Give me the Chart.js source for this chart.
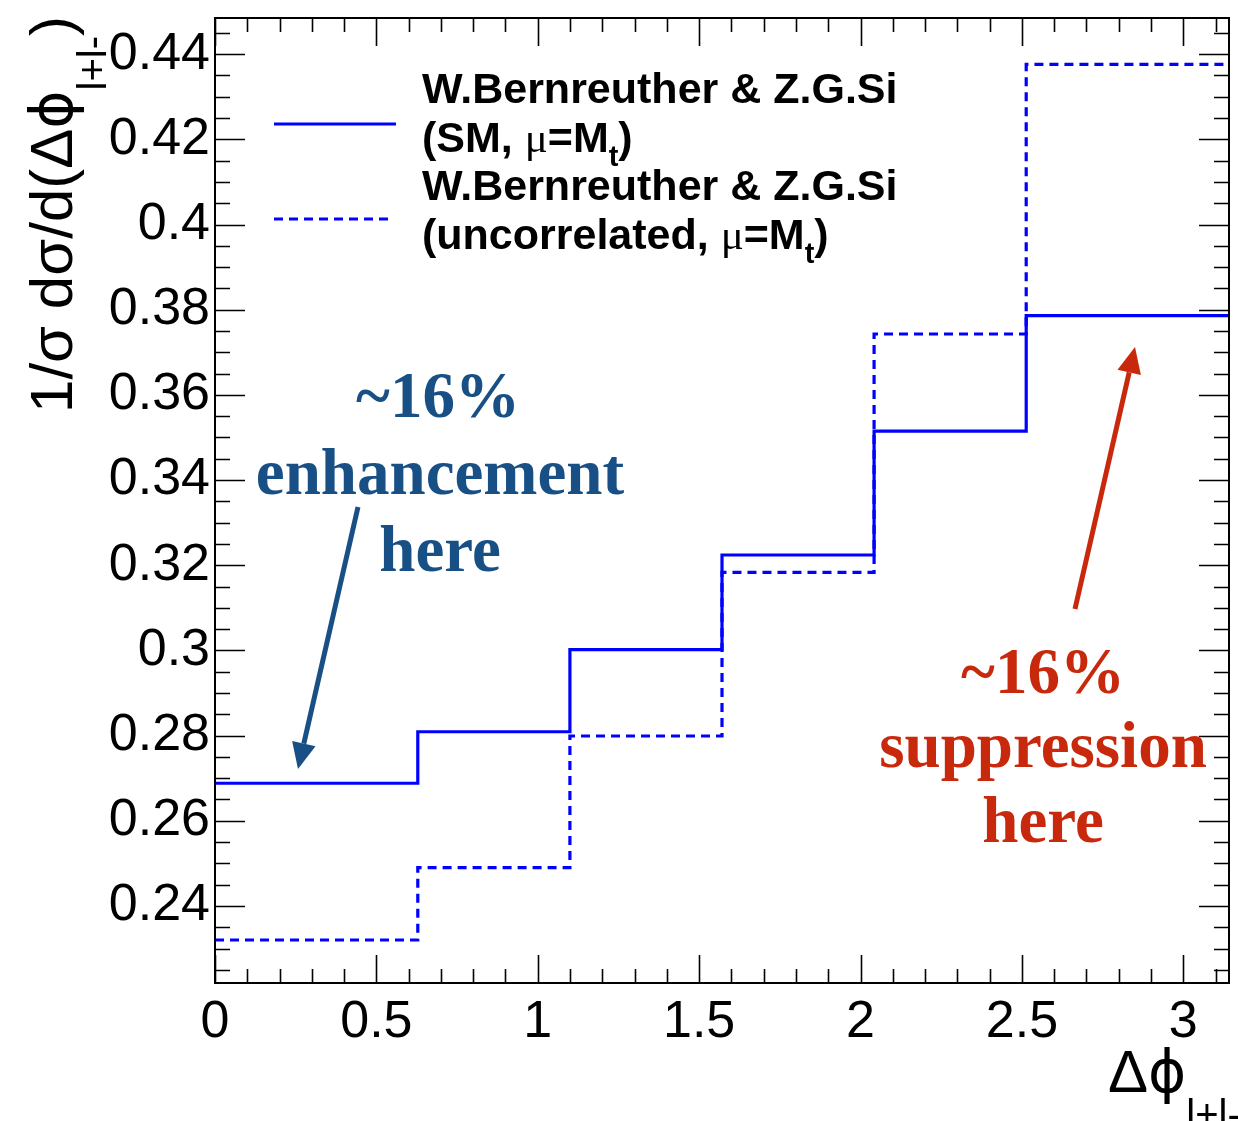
<!DOCTYPE html>
<html><head><meta charset="utf-8">
<script src="https://cdn.jsdelivr.net/npm/chart.js@4.4.0/dist/chart.umd.min.js"></script>
<style>html,body{margin:0;padding:0;background:#fff;overflow:hidden}#wrap{width:1238px;height:1121px;position:relative}</style>
</head><body><div id="wrap"><canvas id="c" width="1238" height="1121"></canvas></div>
<script>
// ---- data ----
const binEdges = [0, 0.6283, 1.0996, 1.5708, 2.0420, 2.5133, 3.1416];
const smValues = [0.2688, 0.2809, 0.3002, 0.3224, 0.3515, 0.3786];
const uncorrValues = [0.2320, 0.2490, 0.2799, 0.3183, 0.3743, 0.4376];
const seriesNames = ['W.Bernreuther & Z.G.Si (SM, μ=Mt)', 'W.Bernreuther & Z.G.Si (uncorrelated, μ=Mt)'];
const xTickValues = [0, 0.5, 1, 1.5, 2, 2.5, 3];
const xTickLabels = ['0', '0.5', '1', '1.5', '2', '2.5', '3'];
const yTickValues = [0.24, 0.26, 0.28, 0.30, 0.32, 0.34, 0.36, 0.38, 0.40, 0.42, 0.44];
const yTickLabels = ['0.24', '0.26', '0.28', '0.3', '0.32', '0.34', '0.36', '0.38', '0.4', '0.42', '0.44'];
const xRange = [0, 3.1416];
const yRange = [0.2219, 0.4485];

function histPoints(vals) {
  const pts = vals.map((v, i) => ({x: binEdges[i], y: v}));
  pts.push({x: binEdges[binEdges.length - 1], y: vals[vals.length - 1]});
  return pts;
}

const SANS = '"Liberation Sans", Arial, Helvetica, sans-serif';
const SERIF = '"Liberation Serif", "Times New Roman", serif';
const GREEK = '"DejaVu Sans", "Liberation Serif", serif';
const BLUE_ANN = '#185086';
const RED_ANN = '#C8290C';

function drawRich(ctx, x, y, segs) {
  let cx = x;
  for (const s of segs) {
    ctx.font = s.font;
    ctx.fillText(s.t, cx, y + (s.dy || 0));
    cx += ctx.measureText(s.t).width + (s.kern || 0);
  }
  return cx;
}
function richWidth(ctx, segs) {
  let w = 0;
  for (const s of segs) { ctx.font = s.font; w += ctx.measureText(s.t).width + (s.kern || 0); }
  return w;
}
function arrow(ctx, x0, y0, x1, y1, color, lw, hl, hw) {
  const ang = Math.atan2(y1 - y0, x1 - x0);
  const bx = x1 - hl * Math.cos(ang), by = y1 - hl * Math.sin(ang);
  ctx.save();
  ctx.strokeStyle = color; ctx.fillStyle = color; ctx.lineWidth = lw;
  ctx.beginPath(); ctx.moveTo(x0, y0); ctx.lineTo(bx, by); ctx.stroke();
  ctx.beginPath();
  ctx.moveTo(x1, y1);
  ctx.lineTo(bx + hw * Math.sin(ang), by - hw * Math.cos(ang));
  ctx.lineTo(bx - hw * Math.sin(ang), by + hw * Math.cos(ang));
  ctx.closePath(); ctx.fill();
  ctx.restore();
}

const decor = {
  id: 'decor',
  afterDraw(chart) {
    const ctx = chart.ctx;
    const xs = chart.scales.x, ys = chart.scales.y;
    const a = chart.chartArea;
    ctx.save();
    // frame
    ctx.strokeStyle = '#000'; ctx.lineWidth = 2;
    ctx.strokeRect(a.left, a.top, a.right - a.left, a.bottom - a.top);
    // ticks
    ctx.lineWidth = 1.6;
    ctx.beginPath();
    for (let i = 0; i <= 31; i++) {
      const v = i * 0.1;
      const px = Math.round(xs.getPixelForValue(v)) + 0.5;
      const major = i % 5 === 0;
      const L = major ? 28 : 14;
      ctx.moveTo(px, a.bottom); ctx.lineTo(px, a.bottom - L);
      ctx.moveTo(px, a.top); ctx.lineTo(px, a.top + L);
    }
    for (let i = 45; i <= 89; i++) {
      const v = i * 0.005;
      const py = Math.round(ys.getPixelForValue(v)) + 0.5;
      const major = i % 4 === 0;
      const L = major ? 30 : 15;
      ctx.moveTo(a.left, py); ctx.lineTo(a.left + L, py);
      ctx.moveTo(a.right, py); ctx.lineTo(a.right - L, py);
    }
    ctx.stroke();

    // legend
    ctx.lineWidth = 3.2; ctx.strokeStyle = '#0000ff';
    ctx.beginPath(); ctx.moveTo(274, 124); ctx.lineTo(396, 124); ctx.stroke();
    ctx.setLineDash([9, 6]);
    ctx.beginPath(); ctx.moveTo(274, 219); ctx.lineTo(392, 219); ctx.stroke();
    ctx.setLineDash([]);
    ctx.fillStyle = '#000'; ctx.textBaseline = 'alphabetic'; ctx.textAlign = 'left';
    const LB = 'bold 43px ' + SANS, LMU = '43px ' + SERIF, LSUB = 'bold 29px ' + SANS;
    drawRich(ctx, 422, 103, [{t: 'W.Bernreuther & Z.G.Si', font: LB}]);
    drawRich(ctx, 422, 152, [{t: '(SM, ', font: LB}, {t: 'μ', font: LMU}, {t: '=M', font: LB},
      {t: 't', font: LSUB, dy: 14}, {t: ')', font: LB}]);
    drawRich(ctx, 422, 200, [{t: 'W.Bernreuther & Z.G.Si', font: LB}]);
    drawRich(ctx, 422, 249, [{t: '(uncorrelated, ', font: LB}, {t: 'μ', font: LMU}, {t: '=M', font: LB},
      {t: 't', font: LSUB, dy: 14}, {t: ')', font: LB}]);

    // y title (rotated)
    const TF = '60px ' + SANS, TG = '58px ' + GREEK, TS = '40px ' + SANS;
    const ySegs = [{t: '1/σ dσ/d(Δ', font: TF}, {t: 'ϕ', font: TG}, {t: 'l+l-', font: TS, dy: 34},
      {t: ')', font: TF}];
    const yW = richWidth(ctx, ySegs);
    ctx.save();
    ctx.translate(72, 16);
    ctx.rotate(-Math.PI / 2);
    drawRich(ctx, -yW, 0, ySegs);
    ctx.restore();

    // x title
    drawRich(ctx, 1108, 1092, [{t: 'Δ', font: TF}, {t: 'ϕ', font: TG}, {t: 'l+l-', font: TS, dy: 36}]);

    // annotations
    const AF = 'bold 65px ' + SERIF;
    ctx.font = AF; ctx.textAlign = 'center';
    ctx.fillStyle = BLUE_ANN;
    ctx.fillText('~16%', 438, 417);
    ctx.fillText('enhancement', 440, 494);
    ctx.fillText('here', 440, 571);
    ctx.fillStyle = RED_ANN;
    ctx.fillText('~16%', 1043, 693);
    ctx.fillText('suppression', 1043, 767);
    ctx.fillText('here', 1043, 842);
    arrow(ctx, 358, 507, 298, 769, BLUE_ANN, 5, 26, 12);
    arrow(ctx, 1075, 609, 1135, 347, RED_ANN, 5, 26, 12);
    ctx.restore();
  }
};

function noPad(s) { s.paddingTop = 0; s.paddingBottom = 0; s.paddingLeft = 0; s.paddingRight = 0; }

new Chart(document.getElementById('c'), {
  type: 'line',
  data: {
    datasets: [
      {label: seriesNames[0], data: histPoints(smValues), stepped: 'before', borderColor: '#0000ff',
       borderWidth: 3.2, pointRadius: 0, fill: false, tension: 0},
      {label: seriesNames[1], data: histPoints(uncorrValues), stepped: 'before', borderColor: '#0000ff',
       borderWidth: 3.2, borderDash: [9, 6], pointRadius: 0, fill: false, tension: 0}
    ]
  },
  options: {
    responsive: false, animation: false, devicePixelRatio: 1,
    layout: {padding: {top: 18, right: 9, left: 0, bottom: 0}},
    plugins: {legend: {display: false}, tooltip: {enabled: false}, title: {display: false}},
    scales: {
      x: {
        type: 'linear', min: xRange[0], max: xRange[1],
        afterBuildTicks: s => { s.ticks = xTickValues.map(v => ({value: v})); },
        afterFit: s => { s.height = 138; noPad(s); },
        grid: {display: false, drawTicks: false}, border: {display: false},
        ticks: {autoSkip: false, maxRotation: 0, padding: 8, color: '#000',
          font: {family: SANS, size: 52},
          callback: (v) => { const i = xTickValues.indexOf(v); return i >= 0 ? xTickLabels[i] : ''; }}
      },
      y: {
        type: 'linear', min: yRange[0], max: yRange[1],
        afterBuildTicks: s => { s.ticks = yTickValues.map(v => ({value: v})); },
        afterFit: s => { s.width = 215; noPad(s); },
        grid: {display: false, drawTicks: false}, border: {display: false},
        ticks: {autoSkip: false, padding: 5, color: '#000',
          font: {family: SANS, size: 52},
          callback: (v) => { const i = yTickValues.findIndex(t => Math.abs(t - v) < 1e-9); return i >= 0 ? yTickLabels[i] : ''; }}
      }
    }
  },
  plugins: [decor]
});
</script></body></html>
